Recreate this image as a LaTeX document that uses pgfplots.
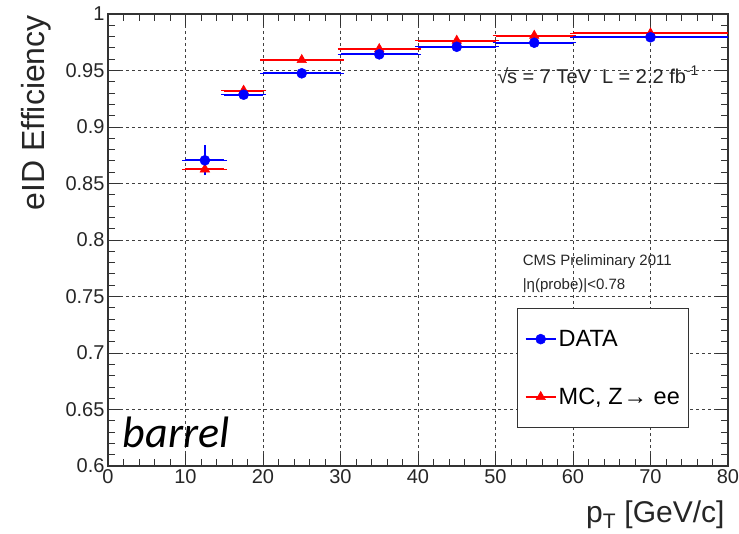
\documentclass[border=0pt]{standalone}
\usepackage{pgfplots}
\pgfplotsset{compat=1.18}
\usepackage{fontspec}
\setmainfont{Liberation Sans}
\newfontfamily\barrelfont{Carlito}
\definecolor{rblue}{RGB}{0,0,255}
\definecolor{rred}{RGB}{255,0,0}
\begin{document}
\begin{tikzpicture}
\path[use as bounding box] (0,0) rectangle (739pt,533pt);
\begin{axis}[
  at={(108pt,67pt)}, anchor=south west,
  scale only axis, width=620pt, height=452pt,
  xmin=0, xmax=80, ymin=0.6, ymax=1,
  xtick={0,10,...,80}, ytick={0.6,0.65,...,1.001},
  minor x tick num=4, minor y tick num=4,
  major tick length=12pt, minor tick length=7pt,
  tick style={line width=0.8pt, black!80},
  axis line style={line width=1.6pt, black!80},
  grid=major,
  major grid style={dash pattern=on 3pt off 3pt, line width=0.9pt, black!75},
  /pgf/number format/assume math mode=true,
  ticklabel style={font=\fontsize{20}{22}\selectfont, black!85},
  yticklabel style={/pgf/number format/.cd, fixed, precision=2},
  xlabel={p\textsubscript{T} [GeV/c]},
  ylabel={eID Efficiency},
  xlabel style={at={(axis description cs:1,0)}, anchor=east, yshift=-49pt, font=\fontsize{30}{34}\selectfont, black!85},
  ylabel style={at={(axis description cs:-0.115,1.005)}, anchor=east, font=\fontsize{32}{36}\selectfont, black!85},
  reverse legend,
  legend style={at={(rel axis cs:0.66,0.35)}, anchor=north west, draw=black!80, line width=1pt,
    font=\fontsize{23.5}{26}\selectfont, inner xsep=7pt, inner ysep=20pt, row sep=36pt, cells={anchor=west}},
  legend image code/.code={\draw[#1, sharp plot, mark repeat=2, mark phase=2] plot coordinates {(0pt,0pt) (15pt,0pt) (30pt,0pt)};},
]
% MC
\addplot[rred, line width=2pt, mark=triangle*, mark size=5.5pt, mark options={solid, fill=rred, line width=0.5pt}, only marks,
  error bars/.cd, x dir=both, x explicit, error bar style={rred, solid, line width=2pt}, error mark options={rred, mark size=3pt, line width=1.4pt}]
  table[x=x, y=y, x error=ex] {
x y ex
12.5 0.8626 2.5
17.5 0.9322 2.5
25 0.9593 5
35 0.9690 5
45 0.9764 5
55 0.9808 5
70 0.9829 10
};
\addlegendentry{MC, Z\kern1pt→ ee}
% DATA
\addplot[rblue, line width=2pt, mark=*, mark size=5pt, mark options={solid, fill=rblue, line width=0.5pt}, only marks,
  error bars/.cd, x dir=both, x explicit, y dir=both, y explicit, error bar style={rblue, solid, line width=2pt}, error mark options={rblue, mark size=3pt, line width=1.4pt}]
  table[x=x, y=y, x error=ex, y error=ey] {
x y ex ey
12.5 0.8705 2.5 0.0105
17.5 0.9286 2.5 0
25 0.9475 5 0
35 0.9643 5 0
45 0.9710 5 0
55 0.9746 5 0
70 0.9794 10 0
};
\addlegendentry{DATA}
\node[anchor=west, font=\fontsize{20}{22}\selectfont, black!85, inner sep=0pt] at (axis cs:50.2,0.946)
  {√\kern-0.06em\vbox{\hrule height 0.06em\kern0.1em\hbox{s}} = 7 TeV\ \ L = 2.2 fb\textsuperscript{-1}};
\node[anchor=west, font=\fontsize{15}{17}\selectfont, black!85, inner sep=0pt] at (axis cs:53.5,0.7805) {CMS Preliminary 2011};
\node[anchor=west, font=\fontsize{15}{17}\selectfont, black!85, inner sep=0pt] at (axis cs:53.5,0.760) {|η(probe)|<0.78};
\node[anchor=base west, font=\barrelfont\itshape\fontsize{44}{48}\selectfont, inner sep=0pt] at (axis cs:1.9,0.616) {barrel};
\end{axis}
\end{tikzpicture}
\end{document}
